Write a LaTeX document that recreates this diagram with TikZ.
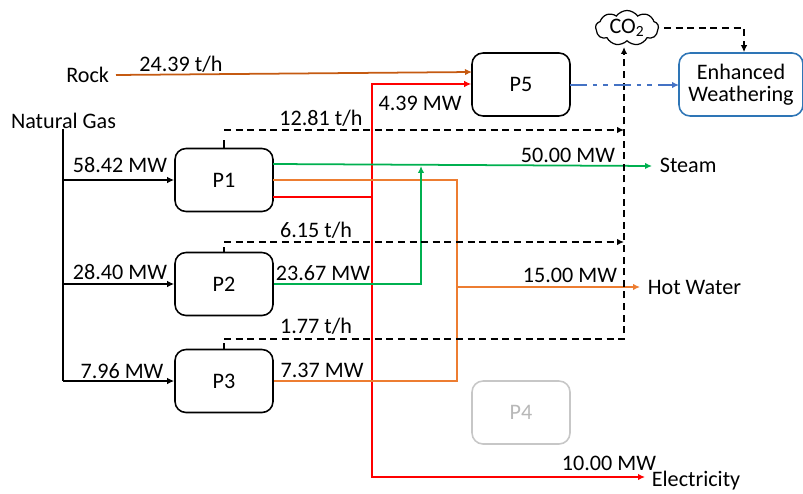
\documentclass[tikz,border=0pt]{standalone}
\usepackage{fontspec}
\setmainfont{Carlito}
\usetikzlibrary{positioning,shapes.symbols,arrows.meta}

\definecolor{rockbrown}{RGB}{197,90,17}
\definecolor{steamgreen}{RGB}{0,176,80}
\definecolor{wateror}{RGB}{237,125,49}
\definecolor{weatherblue}{RGB}{46,117,182}
\definecolor{stoneblue}{RGB}{68,114,196}

\begin{document}
\begin{tikzpicture}[
    x=0.02cm,y=-0.02cm,
    every node/.style={font=\fontsize{12.6}{14.5}\selectfont,inner sep=0pt},
    process/.style={rectangle,rounded corners=2.2mm,draw=black,line width=0.9pt,minimum width=1.96cm,minimum height=1.26cm},
    flow/.style={line width=1pt,-{Latex[length=1.4mm,width=1.3mm]}},
    plain/.style={line width=1pt},
    gas/.style={flow,black},
    carbon/.style={line width=0.95pt,black,dash pattern=on 4pt off 2.6pt,-{Latex[length=1.4mm,width=1.3mm]}}
    ]

    \useasboundingbox (0,0) rectangle (803,493);

    % process blocks
    \node (p1) [process] at (224,180) {P1};
    \node (p2) [process] at (224,284) {P2};
    \node (p3) [process] at (224,381) {P3};
    \node (p4) [process,draw=black!22,text=black!28] at (521,412.5) {P4};
    \node (p5) [process] at (521,84.5) {P5};
    \node (ew) [process,draw=weatherblue,align=center,minimum width=2.48cm] at (741,84.5) {\raisebox{-2pt}{Enhanced}\\Weathering};
    \node (co2) [cloud,draw=black,line width=0.7pt,cloud puffs=9,cloud puff arc=110,aspect=1.8,minimum width=1.26cm,minimum height=0.7cm] at (627,28) {CO\textsubscript{2}};

    % streams in and out
    \node (gas) at (63.5,121) {Natural Gas};
    \node (rock) [anchor=west] at (66,75) {Rock};
    \node (steam) [anchor=west] at (659.5,165.5) {Steam};
    \node (water) [anchor=west] at (647.5,287.5) {Hot Water};
    \node (power) [anchor=west] at (651.5,481) {Electricity};

    % corner points
    \coordinate (gasbot) at (63,381);
    \coordinate (gas1) at (63,180);
    \coordinate (gas2) at (63,284);
    \coordinate (rockout) at (116,75);
    \coordinate (rockin) at (472,72);
    \coordinate (redtop) at (372,84);
    \coordinate (redbot) at (372,477);
    \coordinate (redjoin) at (372,197);
    \coordinate (redout) at (273,197);
    \coordinate (redend) at (645,477);
    \coordinate (greenout) at (273,164);
    \coordinate (greenin) at (421,166);
    \coordinate (greenturn) at (421,284);
    \coordinate (steamend) at (652,166);
    \coordinate (orange1) at (273,180);
    \coordinate (orangeup) at (457,180);
    \coordinate (orangedn) at (457,381);
    \coordinate (orangemid) at (457,287);
    \coordinate (waterend) at (640,287);
    \coordinate (top1) at (224,130);
    \coordinate (top2) at (224,242);
    \coordinate (top3) at (224,339);
    \coordinate (co1) at (624,130);
    \coordinate (co2a) at (624,242);
    \coordinate (co3) at (624,339);
    \coordinate (cotop) at (624,47);
    \coordinate (cloudout) at (664,28);
    \coordinate (cloudturn) at (744,28);
    \coordinate (stoneout) at (570,85);
    \coordinate (stonein) at (679,85);

    % natural gas
    \draw [plain] (gas.south -| gasbot) -- (gasbot);
    \draw [gas] (gas1) -- (gas1 -| p1.west);
    \draw [gas] (gas2) -- (gas2 -| p2.west);
    \draw [gas] (gasbot) -- (p3.west);

    % rock
    \draw [flow,rockbrown] (rockout) -- (rockin);

    % electricity
    \draw [plain,red,line width=1.1pt] (redout) -- (redjoin);
    \draw [flow,red,line width=1.1pt] (redbot) -- (redtop) -- (redtop -| p5.west);
    \draw [flow,red,line width=1.1pt] (redjoin) -- (redbot) -- (redend);

    % hot water
    \draw [plain,wateror] (orange1) -- (orangeup) -- (orangedn) -- (p3.east);
    \draw [flow,wateror] (orangemid) -- (waterend);

    % steam
    \draw [flow,steamgreen] (greenout) -- (steamend);
    \draw [flow,steamgreen] (p2.east) -- (greenturn) -- (greenin);

    % carbon
    \draw [plain] (p1.north) -- ++(0,-8);
    \draw [plain] (p2.north) -- ++(0,-5);
    \draw [plain] (p3.north) -- ++(0,-6);
    \draw [carbon] (top1) -- (co1);
    \draw [carbon] (top2) -- (co2a);
    \draw [carbon] (top3) -- (co3) -- (cotop);
    \draw [carbon] (cloudout) -- (cloudturn) -- (cloudturn |- ew.north);

    % stone to weathering
    \draw [flow,stoneblue,line width=1.15pt,dash pattern=on 9.5pt off 3.5pt on 2.5pt off 3.5pt on 2.5pt off 3.5pt] (stoneout) -- (stonein);

    % labels
    \node (lrock) at (181,64) {24.39 t/h};
    \node (lp5) at (420,103) {4.39 MW};
    \node (lc1) at (321,118) {12.81 t/h};
    \node (lc2) at (316,230) {6.15 t/h};
    \node (lc3) at (316,326) {1.77 t/h};
    \node (lg1) at (120,165) {58.42 MW};
    \node (lg2) at (120,272) {28.40 MW};
    \node (lg3) at (122,371) {7.96 MW};
    \node (ls) at (568,155) {50.00 MW};
    \node (lw) at (570,275) {15.00 MW};
    \node (le) at (609,463) {10.00 MW};
    \node (l2) at (323,273) {23.67 MW};
    \node (l3) at (322,370) {7.37 MW};

  \end{tikzpicture}
\end{document}
